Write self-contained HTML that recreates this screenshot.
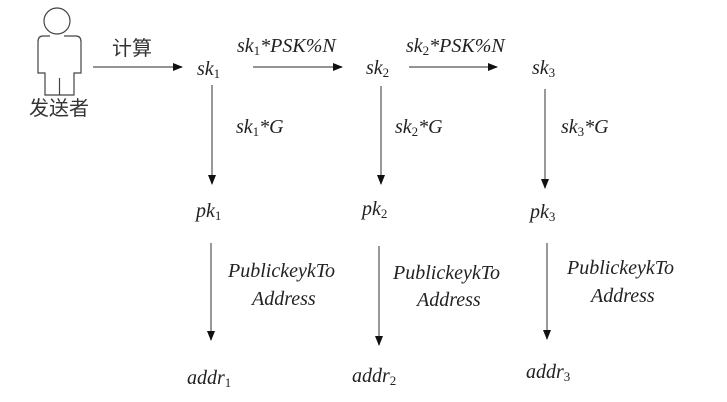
<!DOCTYPE html>
<html><head><meta charset="utf-8"><style>
html,body{margin:0;padding:0;background:#fff;}
svg{display:block;}
text{font-family:"Liberation Serif",serif;font-style:italic;font-size:20px;fill:#222;}
.cn{font-family:"Liberation Sans","Noto Sans CJK SC",sans-serif;font-style:normal;fill:#333;}
tspan.s{font-size:13px;font-style:normal;}
</style></head><body>
<svg width="727" height="402" viewBox="0 0 727 402" xmlns="http://www.w3.org/2000/svg">
<defs><marker id="a" markerWidth="10" markerHeight="10" refX="9" refY="5" orient="auto" markerUnits="userSpaceOnUse"><path d="M0,1 L10,5 L0,9 z" fill="#111"/></marker></defs>
<g fill="none" stroke="#444" stroke-width="1.2">
<circle cx="57" cy="21" r="13"/>
<path d="M50,36 L43,36 Q38,36 38,42 L38,73 L45,73 L45,95 L74,95 L74,73 L81,73 L81,42 Q81,36 76,36 L64,36"/>
<line x1="59.5" y1="78" x2="59.5" y2="95"/>
</g>
<text class="cn" x="29" y="115" font-size="22">发送者</text>
<text class="cn" x="112" y="55" font-size="17">计算</text>
<g stroke="#555" stroke-width="1.2" marker-end="url(#a)">
<line x1="93" y1="67" x2="182" y2="67"/>
<line x1="253" y1="67" x2="342" y2="67"/>
<line x1="409" y1="67" x2="497" y2="67"/>
<line x1="212" y1="85" x2="212" y2="184"/>
<line x1="381" y1="86" x2="381" y2="184"/>
<line x1="545" y1="89" x2="545" y2="188"/>
<line x1="211" y1="243" x2="211" y2="340"/>
<line x1="379" y1="246" x2="379" y2="345"/>
<line x1="547" y1="243" x2="547" y2="339"/>
</g>
<text x="197" y="75">sk<tspan class="s" dy="3">1</tspan></text>
<text x="366" y="74">sk<tspan class="s" dy="3">2</tspan></text>
<text x="532" y="74">sk<tspan class="s" dy="3">3</tspan></text>
<text x="237" y="52">sk<tspan class="s" dy="3">1</tspan><tspan dy="-3">*PSK%N</tspan></text>
<text x="406" y="52">sk<tspan class="s" dy="3">2</tspan><tspan dy="-3">*PSK%N</tspan></text>
<text x="236" y="133">sk<tspan class="s" dy="3">1</tspan><tspan dy="-3">*G</tspan></text>
<text x="395" y="133">sk<tspan class="s" dy="3">2</tspan><tspan dy="-3">*G</tspan></text>
<text x="561" y="133">sk<tspan class="s" dy="3">3</tspan><tspan dy="-3">*G</tspan></text>
<text x="196" y="217">pk<tspan class="s" dy="3">1</tspan></text>
<text x="362" y="215">pk<tspan class="s" dy="3">2</tspan></text>
<text x="530" y="218">pk<tspan class="s" dy="3">3</tspan></text>
<text x="228" y="277">PublickeykTo</text>
<text x="252" y="305">Address</text>
<text x="393" y="279">PublickeykTo</text>
<text x="417" y="306">Address</text>
<text x="567" y="274">PublickeykTo</text>
<text x="591" y="302">Address</text>
<text x="187" y="384">addr<tspan class="s" dy="3">1</tspan></text>
<text x="352" y="382">addr<tspan class="s" dy="3">2</tspan></text>
<text x="526" y="378">addr<tspan class="s" dy="3">3</tspan></text>
</svg>
</body></html>
